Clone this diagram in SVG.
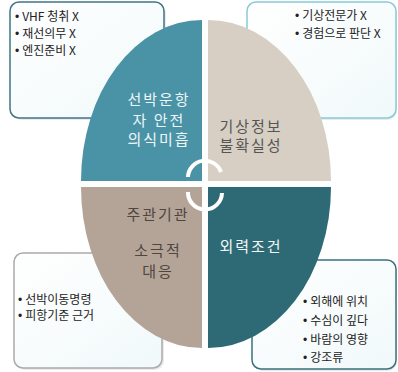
<svg xmlns="http://www.w3.org/2000/svg" width="398" height="372" viewBox="0 0 398 372">
<style>
.box{fill:url(#bg);stroke-width:1.5}
.sh{fill:#000;opacity:0.08}
.bt{font-family:"Noto Sans CJK KR","Noto Sans",sans-serif;font-size:12px;fill:#222}
.bul{font-family:"Liberation Sans",sans-serif}
.qt{font-family:"Noto Sans CJK KR","Noto Sans",sans-serif;font-size:15px;letter-spacing:2px;text-anchor:middle}
.arc{fill:none;stroke:#ffffff;stroke-width:4}
</style>
<defs>
<linearGradient id="bg" x1="0" y1="0" x2="1" y2="1">
<stop offset="0" stop-color="#ffffff"/>
<stop offset="1" stop-color="#f1f9fa"/>
</linearGradient>
</defs>
<rect width="398" height="372" fill="#ffffff"/>
<g id="box-tl">
<rect class="sh" x="12" y="4" width="154" height="116" rx="9"/>
<rect class="box" x="10" y="2" width="154" height="116" rx="9" stroke="#3f7583"/>
<text class="bt" x="15" y="21"><tspan class="bul">•</tspan><tspan dx="3">VHF 청취 X</tspan></text>
<text class="bt" x="15" y="38"><tspan class="bul">•</tspan><tspan dx="3">재선의무 X</tspan></text>
<text class="bt" x="15" y="55"><tspan class="bul">•</tspan><tspan dx="3">엔진준비 X</tspan></text>
</g>
<g id="box-tr">
<rect class="sh" x="249" y="4" width="148" height="116" rx="9"/>
<rect class="box" x="247" y="2" width="149" height="116" rx="9" stroke="#86cbd6"/>
<text class="bt" x="295" y="20"><tspan class="bul">•</tspan><tspan dx="3">기상전문가 X</tspan></text>
<text class="bt" x="295" y="38"><tspan class="bul">•</tspan><tspan dx="3">경험으로 판단 X</tspan></text>
</g>
<g id="box-bl">
<rect class="sh" x="16" y="255" width="148" height="115" rx="9"/>
<rect class="box" x="14" y="253" width="148" height="115" rx="9" stroke="#aaaaaa"/>
<text class="bt" x="18" y="304"><tspan class="bul">•</tspan><tspan dx="3">선박이동명령</tspan></text>
<text class="bt" x="18" y="320"><tspan class="bul">•</tspan><tspan dx="3">피항기준 근거</tspan></text>
</g>
<g id="box-br">
<rect class="sh" x="254" y="262" width="143" height="109" rx="9"/>
<rect class="box" x="252" y="260" width="144" height="109" rx="9" stroke="#3a717d"/>
<text class="bt" x="303" y="306" font-size="13"><tspan class="bul">•</tspan><tspan dx="3">외해에 위치</tspan></text>
<text class="bt" x="303" y="325" font-size="13"><tspan class="bul">•</tspan><tspan dx="3">수심이 깊다</tspan></text>
<text class="bt" x="303" y="344" font-size="13"><tspan class="bul">•</tspan><tspan dx="3">바람의 영향</tspan></text>
<text class="bt" x="303" y="362" font-size="13"><tspan class="bul">•</tspan><tspan dx="3">강조류</tspan></text>
</g>
<g id="quad-tl">
<path d="M202,181 L81,181 A121,161 0 0 1 202,20 Z" fill="#4a93a7"/>
<text class="qt" x="159" y="105" fill="#eef6f7">선박운항</text>
<text class="qt" x="159" y="126" fill="#eef6f7">자 안전</text>
<text class="qt" x="159" y="145" fill="#eef6f7">의식미흡</text>
</g>
<g id="quad-tr">
<path d="M208,181 L208,20 A123,161 0 0 1 331,181 Z" fill="#d7cfc3"/>
<text class="qt" x="251" y="132" fill="#555555">기상정보</text>
<text class="qt" x="251" y="151" fill="#555555">불확실성</text>
</g>
<g id="quad-bl">
<path d="M202,187 L202,348 A121,161 0 0 1 81,187 Z" fill="#b4a498"/>
<text class="qt" x="158" y="220" fill="#4f4640">주관기관</text>
<text class="qt" x="158" y="256" fill="#4f4640">소극적</text>
<text class="qt" x="158" y="277" fill="#4f4640">대응</text>
</g>
<g id="quad-br">
<path d="M208,187 L331,187 A123,161 0 0 1 208,348 Z" fill="#2e6a76"/>
<text class="qt" x="251" y="252" fill="#f2f7f8">외력조건</text>
</g>
<g id="connectors">
<path class="arc" d="M188,177 A17,17 0 0 1 221,172"/>
<path class="arc" d="M188,192 A17,17 0 0 0 222,193"/>
</g>
</svg>
